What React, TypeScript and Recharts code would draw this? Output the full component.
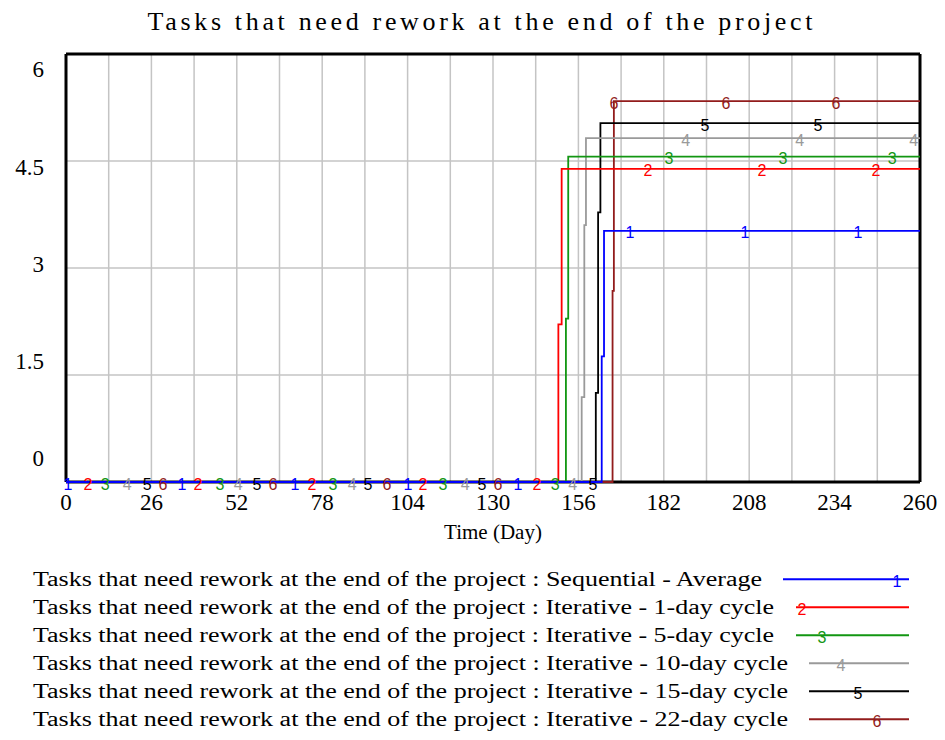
import React from 'react';
import {
    ComposedChart,
    Line,
    Scatter,
    XAxis,
    YAxis,
    CartesianGrid,
    Legend,
} from 'recharts';

const TITLE = 'Tasks that need rework at the end of the project';
const X_LABEL = 'Time (Day)';

const X_TICKS = [0, 26, 52, 78, 104, 130, 156, 182, 208, 234, 260];
const X_GRID = [0, 13, 26, 39, 52, 65, 78, 91, 104, 117, 130, 143, 156, 169, 182, 195, 208, 221, 234, 247, 260];
const Y_TICKS = [0, 1.5, 3, 4.5, 6];
const X_FRAME = [0, 260];
const Y_FRAME = [0, 6];

const SERIES_NAMES = [
    'Tasks that need rework at the end of the project : Sequential - Average',
    'Tasks that need rework at the end of the project : Iterative - 1-day cycle',
    'Tasks that need rework at the end of the project : Iterative - 5-day cycle',
    'Tasks that need rework at the end of the project : Iterative - 10-day cycle',
    'Tasks that need rework at the end of the project : Iterative - 15-day cycle',
    'Tasks that need rework at the end of the project : Iterative - 22-day cycle',
];
const SERIES_COLORS = ['#0000ff', '#ff0000', '#129612', '#9a9a9a', '#000000', '#921c1c'];

// step points: [day, value from that day on]
const SEQUENTIAL_AVG = [[0, 0], [163.1, 1.76], [163.8, 3.52], [260, 3.52]];
const ITER_1DAY = [[0, 0], [149.9, 2.21], [150.9, 4.39], [260, 4.39]];
const ITER_5DAY = [[0, 0], [152.2, 2.29], [152.9, 4.56], [260, 4.56]];
const ITER_10DAY = [[0, 0], [157.0, 1.19], [157.8, 3.6], [158.3, 4.82], [260, 4.82]];
const ITER_15DAY = [[0, 0], [161.3, 1.25], [162.0, 3.78], [162.7, 5.03], [260, 5.03]];
const ITER_22DAY = [[0, 0], [166.4, 2.68], [166.8, 5.34], [260, 5.34]];

// days where each curve carries its number label
const MARKS_1 = [0.6, 35.3, 69.7, 104.1, 137.6, 171.7, 206.7, 241.1];
const MARKS_2 = [6.7, 40.2, 74.9, 108.7, 143.4, 177.2, 211.9, 246.6];
const MARKS_3 = [11.9, 46.9, 81.3, 114.8, 148.9, 183.6, 218.3, 251.5];
const MARKS_4 = [18.6, 52.4, 87.1, 121.5, 154.3, 188.7, 223.4, 258.1];
const MARKS_5 = [24.7, 58.1, 91.9, 126.6, 160.4, 194.5, 228.9];
const MARKS_6 = [29.5, 63.0, 97.7, 131.5, 166.8, 200.9, 234.4];

const STEPS = [SEQUENTIAL_AVG, ITER_1DAY, ITER_5DAY, ITER_10DAY, ITER_15DAY, ITER_22DAY];
const MARKS = [MARKS_1, MARKS_2, MARKS_3, MARKS_4, MARKS_5, MARKS_6];

// legend layout (pixel positions inside the legend box)
const LEGEND_TEXT_W = [729, 741, 741, 755, 755, 755];
const LEGEND_LINE_X1 = [783, 796, 796, 809, 809, 809];
const LEGEND_MARK_X = [897, 802, 822, 841, 858, 877];

const SERIF = '"Liberation Serif", "Times New Roman", serif';
const SANS = '"Liberation Sans", Arial, sans-serif';

const valueAt = (steps: number[][], day: number) => {
    let v = steps[0][1];
    for (const [d, y] of steps) if (d <= day) v = y;
    return v;
};

const series = SERIES_NAMES.map((name, i) => ({
    name,
    color: SERIES_COLORS[i],
    num: String(i + 1),
    points: STEPS[i].map(([x, y]) => ({ x, y })),
    marks: MARKS[i].map((d) => ({ x: d, y: valueAt(STEPS[i], d) })),
}));

const XTick = ({ x, y, payload }: any) => (
    <text x={x} y={y + 12} textAnchor="middle" dominantBaseline="central" fontFamily={SERIF} fontSize={23} fill="#000">
        {payload.value}
    </text>
);

// Vensim spreads the y labels a bit tighter than the grid
const YTick = ({ y, payload }: any) => {
    const v = payload.value;
    return (
        <text x={44} y={y - 23.7 + 6.6 * v} textAnchor="end" dominantBaseline="central" fontFamily={SERIF} fontSize={23} fill="#000">
            {v}
        </text>
    );
};

const MarkNumber = (num: string, color: string) => (props: any) => (
    <text x={props.cx} y={props.cy + 2} textAnchor="middle" dominantBaseline="central" fontFamily={SANS} fontSize={16} fill={color}>
        {num}
    </text>
);

const LegendRows = () => (
    <svg width={945} height={175} style={{ display: 'block' }}>
        {series.map((s, i) => {
            const cy = 14.3 + i * 28;
            return (
                <g key={s.name}>
                    <text x={33} y={cy} dominantBaseline="central" fontFamily={SERIF} fontSize={20} fill="#000"
                        textLength={LEGEND_TEXT_W[i]} lengthAdjust="spacingAndGlyphs">
                        {s.name}
                    </text>
                    <line x1={LEGEND_LINE_X1[i]} x2={909} y1={cy} y2={cy} stroke={s.color} strokeWidth={2} />
                    <text x={LEGEND_MARK_X[i]} y={cy + 2} textAnchor="middle" dominantBaseline="central" fontFamily={SANS} fontSize={16} fill={s.color}>
                        {s.num}
                    </text>
                </g>
            );
        })}
    </svg>
);

const App: React.FC = () => {
    // draw series 6 first so the sequential curve sits on top
    const drawOrder = [...series].reverse();

    return (
        <div style={{ width: 945, height: 740, background: '#fff' }}>
            <style>{'body{margin:0}'}</style>
            <ComposedChart width={945} height={740} margin={{ top: 54, right: 25, bottom: 198, left: 0 }}>
                <text x={480} y={21} textAnchor="middle" dominantBaseline="central" fontFamily={SERIF} fontSize={26}
                    fill="#000" textLength={665} lengthAdjust="spacing">
                    {TITLE}
                </text>
                <CartesianGrid stroke="#c4c4c4" strokeWidth={1.5} verticalValues={X_GRID} horizontalValues={Y_TICKS} />
                {/* heavy plot frame, kept in the grid layer so curves draw over it */}
                <CartesianGrid stroke="#000" strokeWidth={3} verticalValues={X_FRAME} horizontalValues={Y_FRAME} />
                <XAxis
                    type="number"
                    dataKey="x"
                    domain={[0, 260]}
                    ticks={X_TICKS}
                    interval={0}
                    height={60}
                    axisLine={false}
                    tickLine={false}
                    tick={<XTick />}
                    label={{ value: X_LABEL, position: 'insideTop', offset: 42, fontFamily: SERIF, fontSize: 21, fill: '#000' }}
                />
                <YAxis
                    type="number"
                    domain={[0, 6]}
                    ticks={Y_TICKS}
                    interval={0}
                    width={66}
                    axisLine={false}
                    tickLine={false}
                    tick={<YTick />}
                />
                {drawOrder.map((s) => (
                    <Line
                        key={s.name}
                        name={s.name}
                        data={s.points}
                        dataKey="y"
                        type="stepAfter"
                        stroke={s.color}
                        strokeWidth={1.8}
                        dot={false}
                        activeDot={false}
                        isAnimationActive={false}
                    />
                ))}
                {drawOrder.map((s) => (
                    <Scatter
                        key={'m' + s.name}
                        name={'m' + s.num}
                        data={s.marks}
                        dataKey="y"
                        legendType="none"
                        shape={MarkNumber(s.num, s.color)}
                        isAnimationActive={false}
                    />
                ))}
                <Legend
                    layout="horizontal"
                    verticalAlign="middle"
                    align="center"
                    wrapperStyle={{ top: 565, left: 0, width: 945, height: 175 }}
                    content={<LegendRows />}
                />
            </ComposedChart>
        </div>
    );
};

export default App;
